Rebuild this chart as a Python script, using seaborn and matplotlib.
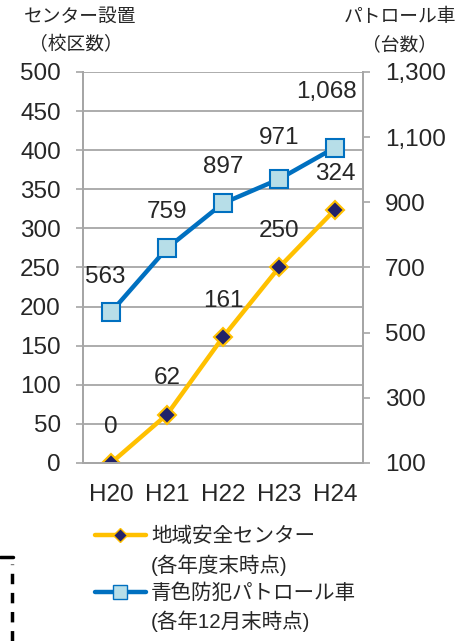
import pandas as pd
import numpy as np
import matplotlib
matplotlib.use("Agg")
import matplotlib.pyplot as plt
from matplotlib.lines import Line2D
from matplotlib.ticker import FuncFormatter
import seaborn as sns

# data
years = ["H20", "H21", "H22", "H23", "H24"]
centers = [0, 62, 161, 250, 324]           # 地域安全センター (校区数), left axis
patrol_cars = [563, 759, 897, 971, 1068]   # 青色防犯パトロール車 (台数), right axis

center_label = "地域安全センター"
center_note = "(各年度末時点)"
car_label = "青色防犯パトロール車"
car_note = "(各年12月末時点)"

sns.set_style("white")
plt.rcParams['font.family'] = ['Liberation Sans', 'Noto Sans CJK JP', 'DejaVu Sans']

ORANGE = "#FFC000"
NAVY = "#22226A"
BLUE = "#0070C0"
LIGHT = "#B7DEE8"
GRID = "#A6A6A6"
FS = 17.5

df = pd.DataFrame({"year": years, "centers": centers, "cars": patrol_cars})

fig = plt.figure(figsize=(4.73, 6.41), dpi=100)
ax = fig.add_axes([0.1755, 0.2777, 0.5919, 0.61])
ax2 = ax.twinx()

sns.lineplot(data=df, x="year", y="centers", ax=ax, color=ORANGE, lw=3.2,
             marker="D", markersize=9, markerfacecolor=NAVY,
             markeredgecolor=ORANGE, markeredgewidth=1.5, sort=False, zorder=3)
sns.lineplot(data=df, x="year", y="cars", ax=ax2, color=BLUE, lw=3.2,
             marker="s", markersize=13, markerfacecolor=LIGHT,
             markeredgecolor=BLUE, markeredgewidth=1.5, sort=False, zorder=3)

# axes ranges and ticks
ax.set_xlim(-0.5, 4.5)
ax.set_ylim(0, 500)
ax.set_yticks(np.arange(0, 501, 50))
ax2.set_ylim(100, 1300)
ax2.set_yticks(np.arange(100, 1301, 200))
ax2.yaxis.set_major_formatter(FuncFormatter(lambda v, p: f"{int(v):,}"))

ax.set_xticks(range(len(years)))
ax.set_xticklabels(years)
ax.set_xticks(np.arange(-0.5, 4.6, 1), minor=True)
ax.tick_params(axis="x", which="major", length=0, pad=15, labelsize=FS)
ax.tick_params(axis="x", which="minor", length=5, width=1.2, color=GRID, direction="out")
ax.tick_params(axis="y", length=5, width=1.2, color=GRID, pad=11, labelsize=FS, direction="out")
ax2.tick_params(axis="y", length=5, width=1.2, color=GRID, pad=11, labelsize=FS, direction="out")

ax.grid(axis="y", color=GRID, lw=1.3)
ax.set_axisbelow(True)
ax.set_xlabel("")
ax.set_ylabel("")
ax2.set_ylabel("")

for a in (ax, ax2):
    for side in ("left", "right", "bottom"):
        a.spines[side].set_color(GRID)
        a.spines[side].set_linewidth(1.4)
    a.spines["top"].set_visible(False)

# data labels
center_offsets = [(0, 26), (0, 26), (0, 26), (0, 26), (0, 26)]
car_offsets = [(-4, 25), (0, 26), (0, 26), (0, 30), (-6, 40)]
for i, v in enumerate(centers):
    ax.annotate(f"{v:,}", (i, v), xytext=center_offsets[i], textcoords="offset points",
                ha="center", va="center", fontsize=FS, zorder=5)
for i, v in enumerate(patrol_cars):
    ax2.annotate(f"{v:,}", (i, v), xytext=car_offsets[i], textcoords="offset points",
                 ha="center", va="center", fontsize=FS, zorder=5)

# axis titles
fig.text(0.17, 0.973, "センター設置", ha="center", va="center", fontsize=13.5)
fig.text(0.16, 0.929, "（校区数）", ha="center", va="center", fontsize=13.5)
fig.text(0.845, 0.973, "パトロール車", ha="center", va="center", fontsize=13.5)
fig.text(0.845, 0.929, "（台数）", ha="center", va="center", fontsize=13.5)

# legend
h1 = Line2D([], [], color=ORANGE, lw=3.2, marker="D", markersize=7,
            markerfacecolor=NAVY, markeredgecolor=ORANGE)
h2 = Line2D([], [], color=BLUE, lw=3.2, marker="s", markersize=10,
            markerfacecolor=LIGHT, markeredgecolor=BLUE)
blank = Line2D([], [], color="none")
fig.legend([h1, blank, h2, blank], [center_label, center_note, car_label, car_note],
           loc="upper left", bbox_to_anchor=(0.2, 0.178), frameon=False,
           fontsize=14.8, handlelength=2.5, handletextpad=0.25,
           labelspacing=0.38, borderpad=0, borderaxespad=0)

# dashed box edge in the lower left corner
fig.add_artist(Line2D([0.0, 0.028], [0.131, 0.131], color="black", lw=2.5))
fig.add_artist(Line2D([0.026, 0.026], [0.0, 0.12], color="black", lw=2.5,
                      linestyle=(0, (3, 2.5))))

fig.savefig("out.png", dpi=100)
